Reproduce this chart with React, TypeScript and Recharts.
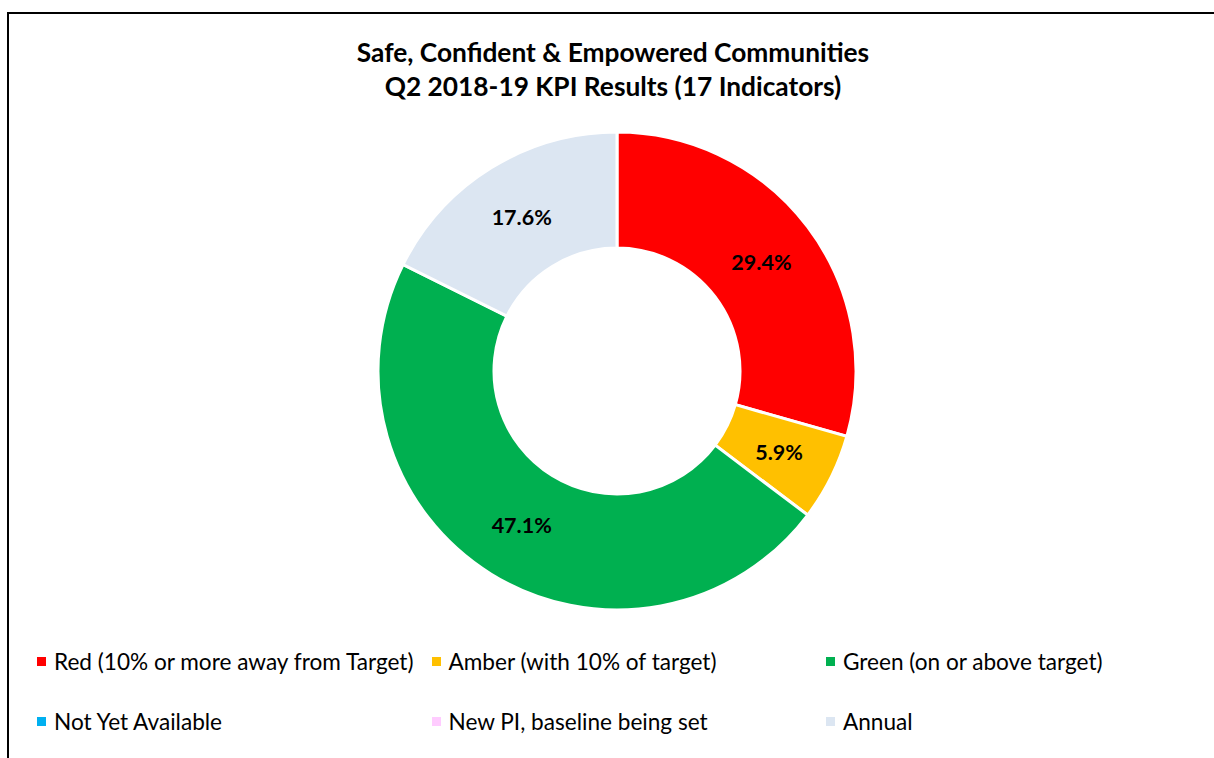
import React from 'react';
import { PieChart, Pie, Cell, Legend } from 'recharts';

const categories = [
    'Red (10% or more away from Target)',
    'Amber (with 10% of target)',
    'Green (on or above target)',
    'Not Yet Available',
    'New PI, baseline being set',
    'Annual',
];
const counts = [5, 1, 8, 0, 0, 3];
const colors = ['#FF0000', '#FFC000', '#00B050', '#00B0F0', '#FFCCFF', '#DCE6F2'];
const titleLines = ['Safe, Confident & Empowered Communities', 'Q2 2018-19 KPI Results (17 Indicators)'];

const FONT = 'Lato, "Open Sans", sans-serif';
const RADIAN = Math.PI / 180;

const data = categories.map((name, i) => ({ name, value: counts[i], color: colors[i] }));

const renderLabel = (props: any) => {
    const { cx, cy, midAngle, innerRadius, outerRadius, percent, value } = props;
    if (!value) return null;
    const r = (innerRadius + outerRadius) / 2;
    const x = cx + r * Math.cos(-midAngle * RADIAN);
    const y = cy + r * Math.sin(-midAngle * RADIAN);
    return (
        <text x={x} y={y} textAnchor="middle" dominantBaseline="central"
            fontFamily={FONT} fontWeight={700} fontSize={21.5} fill="#000">
            {(percent * 100).toFixed(1)}%
        </text>
    );
};

// legend: 3 columns, 2 rows
const LegendBox = () => (
    <div style={{ position: 'relative', width: 1200, height: 120 }}>
        {data.map((d, i) => {
            const col = i % 3;
            const row = Math.floor(i / 3);
            return (
                <div key={d.name} style={{
                    position: 'absolute', left: 37 + col * 394.5, top: row * 60, height: 30,
                    display: 'flex', alignItems: 'center', fontFamily: FONT, fontSize: 22.6, color: '#000',
                    whiteSpace: 'nowrap',
                }}>
                    <span style={{ width: 9, height: 9, background: d.color, marginRight: 8, display: 'inline-block' }} />
                    {d.name}
                </div>
            );
        })}
    </div>
);

const App: React.FC = () => {
    return (
        <div style={{ position: 'fixed', left: 0, top: 0, width: 1214, height: 758, overflow: 'hidden', background: '#fff' }}>
            <div style={{
                position: 'absolute', left: 7, top: 12, width: 1300, height: 900,
                borderLeft: '2px solid #000', borderTop: '2px solid #000', boxSizing: 'border-box',
            }} />
            <div style={{
                position: 'absolute', left: 0, top: 35, width: 1226, textAlign: 'center',
                fontFamily: FONT, fontWeight: 700, fontSize: 26.3, lineHeight: '34px', color: '#000',
            }}>
                {titleLines.map(t => <div key={t}>{t}</div>)}
            </div>
            <div style={{ position: 'absolute', left: 0, top: 0 }}>
                <PieChart width={1200} height={758} margin={{ top: 0, right: 0, bottom: 0, left: 0 }}>
                    <Pie
                        data={data}
                        dataKey="value"
                        nameKey="name"
                        cx={617}
                        cy={371}
                        innerRadius={123}
                        outerRadius={239}
                        startAngle={90}
                        endAngle={-270}
                        stroke="#fff"
                        strokeWidth={3}
                        label={renderLabel}
                        labelLine={false}
                        isAnimationActive={false}
                    >
                        {data.map(d => <Cell key={d.name} fill={d.color} />)}
                    </Pie>
                    <Legend
                        verticalAlign="bottom"
                        content={() => <LegendBox />}
                        wrapperStyle={{ left: 0, top: 646, width: 1200 }}
                    />
                </PieChart>
            </div>
        </div>
    );
};

export default App;
